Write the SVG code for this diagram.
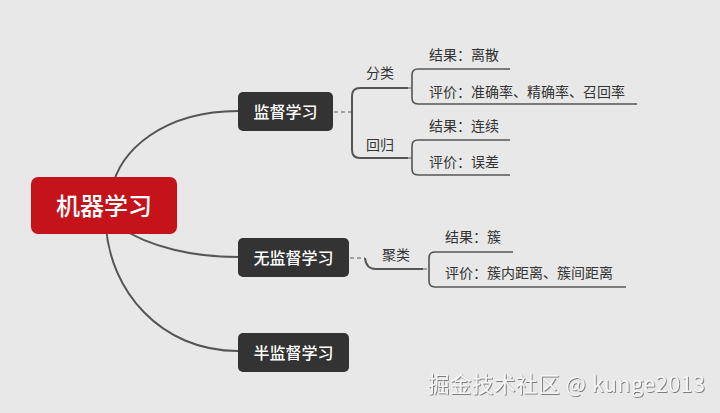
<svg xmlns="http://www.w3.org/2000/svg" width="720" height="413" viewBox="0 0 720 413">
  <defs>
    <style>
      text { font-family: "Noto Sans CJK SC", "Noto Sans", sans-serif; }
      .curve { fill: none; stroke: #555555; stroke-width: 2; stroke-linecap: round; }
      .brk { fill: none; stroke: #555555; stroke-width: 2; stroke-linejoin: round; }
      .leafline { fill: none; stroke: #555555; stroke-width: 1.6; }
      .dash { fill: none; stroke: #8a8a8a; stroke-width: 1.5; stroke-dasharray: 4 3; }
      .box { fill: #333333; }
      .boxtxt { fill: #ffffff; font-size: 16px; font-weight: 500; text-anchor: middle; }
      .lbl { fill: #333333; font-size: 14px; }
    </style>
    <filter id="emboss" x="-5%" y="-30%" width="110%" height="160%">
      <feDropShadow dx="0.8" dy="0.8" stdDeviation="0.4" flood-color="#555555" flood-opacity="0.9"/>
    </filter>
  </defs>
  <rect width="720" height="413" fill="#e8e8e8"/>

  <g id="connectors">
    <path class="curve" d="M112,190 C118,150 165,111 238,111"/>
    <path class="curve" d="M118,226 C150,248 195,257 238,257"/>
    <path class="curve" d="M106,226 C110,290 160,351 238,351"/>

    <line class="dash" x1="334" y1="112" x2="352" y2="112"/>
    <path class="brk" d="M408,88 H360 Q352,88 352,96 V150 Q352,158 360,158 H408"/>

    <line class="dash" x1="408" y1="88" x2="413" y2="88"/>
    <path class="leafline" d="M510,69 H418 Q412,69 412,75 V98 Q412,104 418,104 H637"/>

    <line class="dash" x1="408" y1="158" x2="413" y2="158"/>
    <path class="leafline" d="M510,140 H418 Q412,140 412,146 V169 Q412,175 418,175 H510"/>

    <line class="dash" x1="350" y1="258" x2="365" y2="258"/>
    <path class="brk" d="M365,258 Q366,269 376,269 H423"/>
    <line class="dash" x1="423" y1="269" x2="430" y2="269"/>
    <path class="leafline" d="M513,252 H435 Q429,252 429,258 V281 Q429,287 435,287 H626"/>
  </g>

  <g id="root">
    <rect x="31" y="177" width="146" height="57" rx="7" fill="#c5131b"/>
    <text x="104" y="214.5" fill="#ffffff" font-size="24" font-weight="500" text-anchor="middle">机器学习</text>
  </g>

  <g id="supervised">
    <rect class="box" x="238" y="92" width="95" height="39" rx="5"/>
    <text class="boxtxt" x="285.5" y="117.5">监督学习</text>
  </g>
  <g id="unsupervised">
    <rect class="box" x="238" y="238" width="111" height="39" rx="5"/>
    <text class="boxtxt" x="293.5" y="263.5">无监督学习</text>
  </g>
  <g id="semisupervised">
    <rect class="box" x="238" y="333" width="111" height="39" rx="5"/>
    <text class="boxtxt" x="293.5" y="358.5">半监督学习</text>
  </g>

  <g id="classification"><text class="lbl" x="366" y="78">分类</text></g>
  <g id="regression"><text class="lbl" x="366" y="150">回归</text></g>
  <g id="clustering"><text class="lbl" x="382" y="260">聚类</text></g>

  <g id="cls-result"><text class="lbl" x="429" y="60">结果：离散</text></g>
  <g id="cls-eval"><text class="lbl" x="429" y="97">评价：准确率、精确率、召回率</text></g>
  <g id="reg-result"><text class="lbl" x="429" y="131">结果：连续</text></g>
  <g id="reg-eval"><text class="lbl" x="429" y="167">评价：误差</text></g>
  <g id="clu-result"><text class="lbl" x="445" y="242">结果：簇</text></g>
  <g id="clu-eval"><text class="lbl" x="445" y="278">评价：簇内距离、簇间距离</text></g>

  <text x="428" y="392" fill="#f6f6f6" font-size="21.5" textLength="277" lengthAdjust="spacing" filter="url(#emboss)">掘金技术社区 @ kunge2013</text>
</svg>
